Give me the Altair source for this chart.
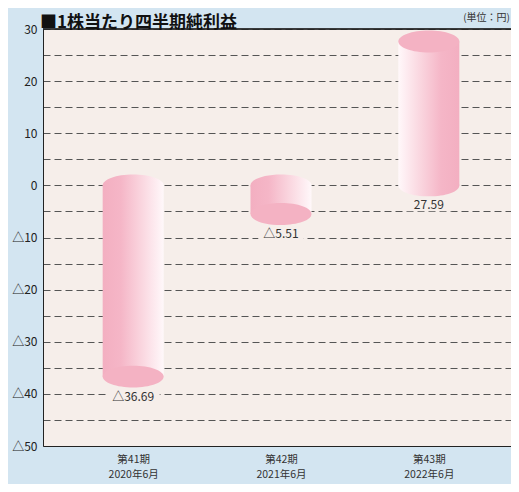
import altair as alt
import pandas as pd

periods = ["第41期\n2020年6月", "第42期\n2021年6月", "第43期\n2022年6月"]
values = [-36.69, -5.51, 27.59]
value_labels = ["△36.69", "△5.51", "27.59"]
y_grid = list(range(-50, 31, 5))

df = pd.DataFrame({"period": periods, "value": values, "label": value_labels})

FONT = "Noto Sans CJK JP"
PLOT_BG = "#F6EEEA"
PINK = "#F4B2C3"
ELLIPSE = ("M-1,0 C-1,-0.199 -0.552,-0.36 0,-0.36 C0.552,-0.36 1,-0.199 1,0 "
           "C1,0.199 0.552,0.36 0,0.36 C-0.552,0.36 -1,0.199 -1,0 Z")
RECT = "M-1,-0.26 L1,-0.26 L1,0.26 L-1,0.26 Z"
BW = 61


def grad(reverse=False):
    stops = [("#F3AFC1", 0.0), ("#F5B6C7", 0.3), ("#FAD7E0", 0.65), ("#FFF8FA", 1.0)]
    if reverse:
        stops = [(c, 1 - o) for c, o in stops][::-1]
    return alt.Gradient(gradient="linear", x1=0, x2=1, y1=0, y2=0,
                        stops=[alt.GradientStop(color=c, offset=o) for c, o in stops])


xs = alt.Scale(type="point", padding=0.61, domain=periods)
ys = alt.Scale(domain=[-50, 30], nice=False, zero=False)

x_axis = alt.Axis(title=None, ticks=False, grid=False, domainColor="#222", domainWidth=1,
                  labelExpr="split(datum.label, '\\n')", labelFont=FONT, labelFontSize=10.5,
                  labelColor="#333", labelPadding=8, labelLineHeight=15.5, labelAngle=0)
y_axis = alt.Axis(title=None, ticks=False, values=y_grid, domainColor="#222", domainWidth=1,
                  labelExpr="datum.value % 10 != 0 ? '' : (datum.value < 0 ? '△' + abs(datum.value) : '' + datum.value)",
                  labelFont=FONT, labelFontSize=12, labelColor="#222", labelPadding=6,
                  grid=True, gridColor="#555", gridDash=[7, 4], gridWidth=1)


def X():
    return alt.X("period:N", scale=xs, sort=periods, axis=x_axis)


def Y(field):
    return alt.Y(field, scale=ys, axis=y_axis)


base = alt.Chart(df)

layers = []
for cond, rev in [("datum.value < 0", False), ("datum.value >= 0", True)]:
    g = grad(rev)
    body = base.transform_filter(cond).mark_bar(size=BW, color=g).encode(
        x=X(), y=Y("value:Q"), y2=alt.datum(0),
    )
    cap = base.transform_filter(cond).transform_calculate(zero="0").mark_point(
        shape=ELLIPSE, size=BW * BW, filled=True, fill=g, strokeWidth=0, opacity=1
    ).encode(x=X(), y=Y("zero:Q"))
    layers += [body, cap]

face = base.mark_point(shape=ELLIPSE, size=BW * BW, filled=True, fill=PINK,
                       strokeWidth=0, opacity=1).encode(x=X(), y=Y("value:Q"))

label_bg = base.transform_calculate(
    lp="min(datum.value, 0)", bw="pow(length(datum.label) * 7.5 + 8, 2)"
).mark_point(shape=RECT, filled=True, fill=PLOT_BG, strokeWidth=0, opacity=1, yOffset=20).encode(
    x=X(), y=Y("lp:Q"),
    size=alt.Size("bw:Q", scale=None, legend=None),
)

label_txt = base.transform_calculate(lp="min(datum.value, 0)").mark_text(
    font=FONT, fontSize=12, color="#333", dy=20, baseline="middle", align="center"
).encode(x=X(), y=Y("lp:Q"), text="label:N")

top_rule = base.mark_rule(color="#222", strokeWidth=1).encode(
    y=alt.Y("top:Q", scale=ys, axis=y_axis)
).transform_calculate(top="30")

one = alt.Data(values=[{"t": 1}])
title = alt.Chart(one).mark_text(
    text="■1株当たり四半期純利益", font=FONT, fontSize=17, fontWeight="bold",
    color="#111", align="left", baseline="alphabetic"
).encode(x=alt.value(-3), y=alt.value(-1.5))

unit = alt.Chart(one).mark_text(
    text="(単位：円)", font=FONT, fontSize=10, color="#333",
    align="right", baseline="alphabetic"
).encode(x=alt.value(467), y=alt.value(-8))

chart = alt.layer(*layers, face, label_bg, label_txt, top_rule, title, unit).properties(
    width=476, height=417,
    padding={"left": 35, "top": 21, "right": -8, "bottom": 38},
    autosize=alt.AutoSizeParams(type="none"),
    background="#D3E5F1",
).configure_view(fill=PLOT_BG, stroke="transparent")

chart.save("out.html", embed_options={"renderer": "svg", "actions": False})
